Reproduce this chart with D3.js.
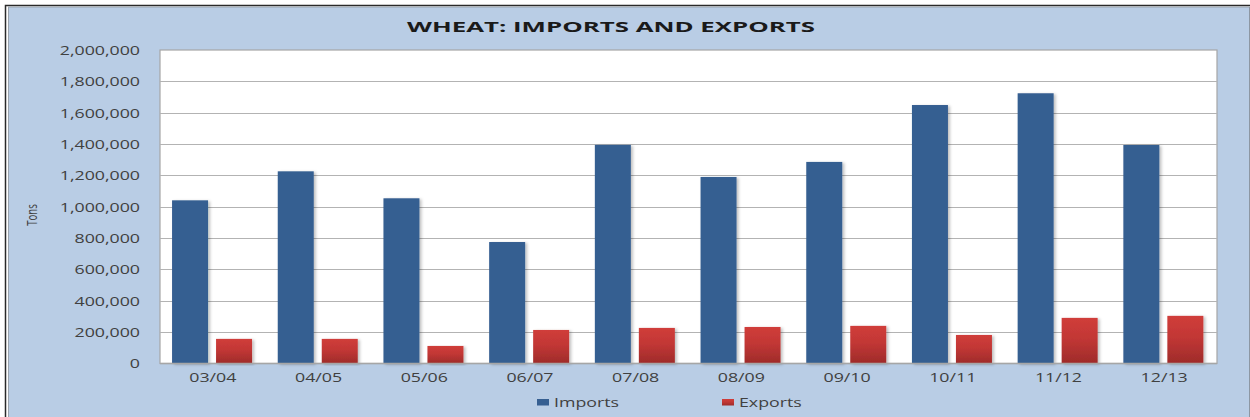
<!DOCTYPE html>
<html>
<head>
<meta charset="utf-8">
<script src="https://cdn.jsdelivr.net/npm/d3@7"></script>
<style>
  body { margin: 0; background: #fff; }
  svg { display: block; }
  text { font-family: "Open Sans", sans-serif; fill: #404040; }
</style>
</head>
<body>
<div id="chart"></div>
<script>
// season labels
var seasons = ["03/04", "04/05", "05/06", "06/07", "07/08", "08/09", "09/10", "10/11", "11/12", "12/13"];
// tons
var imports = [1041000, 1226000, 1054000, 775000, 1395000, 1190000, 1286000, 1649000, 1724000, 1394000];
var exports = [157000, 157000, 112000, 214000, 227000, 233000, 240000, 182000, 291000, 304000];
var seriesNames = ["Imports", "Exports"];
var yTicks = [0, 200000, 400000, 600000, 800000, 1000000, 1200000, 1400000, 1600000, 1800000, 2000000];

var width = 1250, height = 417;
var plot = { left: 160, right: 1217, top: 50, bottom: 363.5 };
var stretch = 1.48; // the source picture is squashed wide

var svg = d3.select("#chart").append("svg")
    .attr("width", width)
    .attr("height", height);

var defs = svg.append("defs");
var grad = defs.append("linearGradient")
    .attr("id", "redGrad")
    .attr("x1", 0).attr("y1", 0).attr("x2", 0).attr("y2", 1);
grad.append("stop").attr("offset", "0%").attr("stop-color", "#d03d3a");
grad.append("stop").attr("offset", "45%").attr("stop-color", "#c23735");
grad.append("stop").attr("offset", "100%").attr("stop-color", "#9e2b2a");

var shadow = defs.append("filter").attr("id", "shadow")
    .attr("x", "-20%").attr("y", "-5%").attr("width", "150%").attr("height", "115%");
shadow.append("feDropShadow")
    .attr("dx", 2).attr("dy", 1)
    .attr("stdDeviation", 1.5)
    .attr("flood-color", "#000")
    .attr("flood-opacity", 0.25);

// outer frame
svg.append("rect")
    .attr("x", 5.5).attr("y", 5.5)
    .attr("width", width).attr("height", height)
    .attr("fill", "#fff")
    .attr("stroke", "#2a2a2a")
    .attr("stroke-width", 1.5);
svg.append("rect")
    .attr("x", 8.5).attr("y", 7)
    .attr("width", width - 9).attr("height", height)
    .attr("fill", "#b9cde5")
    .attr("stroke", "#9aa3ad")
    .attr("stroke-width", 1);
svg.append("line")
    .attr("x1", 1249.5).attr("x2", 1249.5)
    .attr("y1", 7).attr("y2", height)
    .attr("stroke", "#8d97a3");

// plot area
svg.append("rect")
    .attr("x", plot.left).attr("y", plot.top)
    .attr("width", plot.right - plot.left)
    .attr("height", plot.bottom - plot.top)
    .attr("fill", "#fff")
    .attr("stroke", "#a6a6a6")
    .attr("stroke-width", 1.2);

var x0 = d3.scaleBand().domain(seasons).range([plot.left, plot.right]);
var x1 = d3.scaleBand().domain(seriesNames).range([-40, 40]).paddingInner(0.1818);
var y = d3.scaleLinear().domain([0, 2000000]).range([plot.bottom, plot.top]);

function stretchText(sel, k) {
    sel.each(function() {
        var len = this.getComputedTextLength();
        d3.select(this)
            .attr("textLength", len * k)
            .attr("lengthAdjust", "spacingAndGlyphs");
    });
}

// gridlines
svg.append("g").selectAll("line")
    .data(yTicks.slice(1, -1))
    .join("line")
    .attr("x1", plot.left).attr("x2", plot.right)
    .attr("y1", function(d) { return Math.round(y(d)) + 0.5; })
    .attr("y2", function(d) { return Math.round(y(d)) + 0.5; })
    .attr("stroke", "#b3b3b3")
    .attr("stroke-width", 1.2);

// y axis labels
var fmt = d3.format(",");
var yAxis = svg.append("g")
    .attr("transform", "translate(" + (plot.left - 20) + ",0)")
    .call(d3.axisLeft(y).tickValues(yTicks).tickFormat(fmt).tickSize(0).tickPadding(0));
yAxis.select(".domain").remove();
yAxis.selectAll("text")
    .attr("font-size", 12)
    .attr("font-family", "'Open Sans', sans-serif")
    .attr("fill", "#404040")
    .attr("dy", "0.36em")
    .call(stretchText, stretch);

// x axis labels
var xAxis = svg.append("g")
    .attr("transform", "translate(0," + (plot.bottom + 10) + ")")
    .call(d3.axisBottom(x0).tickSize(0).tickPadding(0));
xAxis.select(".domain").remove();
xAxis.selectAll("text")
    .attr("font-size", 12)
    .attr("font-family", "'Open Sans', sans-serif")
    .attr("fill", "#404040")
    .attr("dy", "0.71em")
    .call(stretchText, stretch);

// bars
var rows = seasons.map(function(s, i) {
    return { season: s, values: [
        { key: "Imports", value: imports[i] },
        { key: "Exports", value: exports[i] }
    ] };
});
var colors = { Imports: "#365f91", Exports: "url(#redGrad)" };

var groups = svg.append("g").selectAll("g")
    .data(rows)
    .join("g")
    .attr("transform", function(d) { return "translate(" + (x0(d.season) + x0.bandwidth() / 2 - 0.8) + ",0)"; });
groups.selectAll("rect")
    .data(function(d) { return d.values; })
    .join("rect")
    .attr("x", function(d) { return x1(d.key); })
    .attr("width", x1.bandwidth())
    .attr("y", function(d) { return y(d.value); })
    .attr("height", function(d) { return y(0) - y(d.value); })
    .attr("fill", function(d) { return colors[d.key]; })
    .attr("filter", "url(#shadow)");

// redraw plot bottom edge over the bar shadows
svg.append("line")
    .attr("x1", plot.left).attr("x2", plot.right)
    .attr("y1", plot.bottom).attr("y2", plot.bottom)
    .attr("stroke", "#a6a6a6").attr("stroke-width", 1.5);

// title
svg.append("text")
    .attr("x", 611).attr("y", 31.5)
    .attr("text-anchor", "middle")
    .attr("font-size", 14.5)
    .attr("font-weight", "bold")
    .style("fill", "#1a1a1a")
    .attr("textLength", 408)
    .attr("lengthAdjust", "spacingAndGlyphs")
    .text("WHEAT: IMPORTS AND EXPORTS");

// y axis title
svg.append("text")
    .attr("transform", "translate(37,215) rotate(-90)")
    .attr("text-anchor", "middle")
    .attr("font-size", 15)
    .style("fill", "#404040")
    .text("Tons")
    .call(stretchText, 0.64);

// legend
var legendX = [537, 722];
var legend = svg.append("g").selectAll("g")
    .data(seriesNames)
    .join("g")
    .attr("transform", function(d, i) { return "translate(" + legendX[i] + ",399)"; });
legend.append("rect")
    .attr("width", 12).attr("height", 6.5)
    .attr("fill", function(d) { return colors[d]; });
legend.append("text")
    .attr("x", 17).attr("y", 3.3)
    .attr("dy", "0.36em")
    .attr("font-size", 12)
    .text(function(d) { return d; })
    .call(stretchText, stretch);
</script>
</body>
</html>
